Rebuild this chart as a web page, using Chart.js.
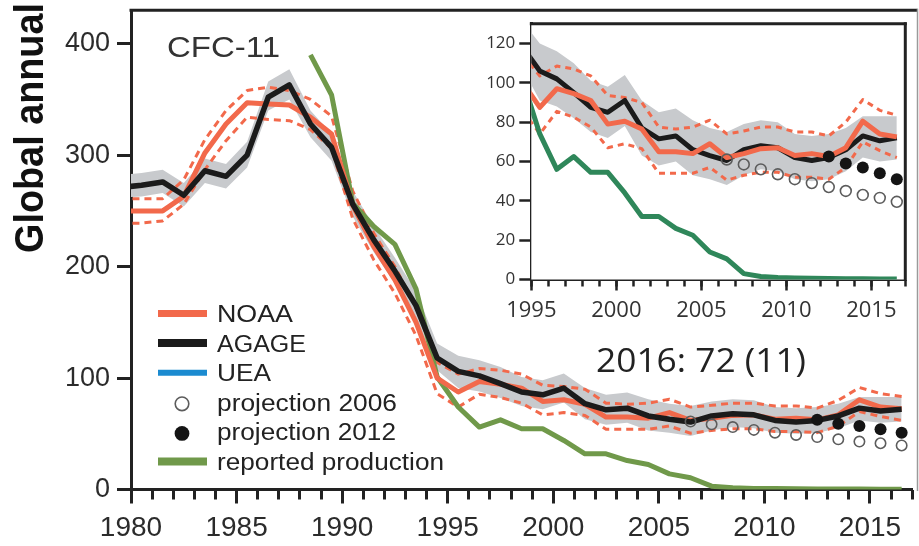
<!DOCTYPE html>
<html>
<head>
<meta charset="utf-8">
<script src="https://cdn.jsdelivr.net/npm/chart.js@4.4.1/dist/chart.umd.min.js"></script>
<style>
  html, body { margin: 0; padding: 0; background: #fff; }
  #wrap { position: relative; width: 919px; height: 546px; overflow: hidden; background: #fff; }
  #main { position: absolute; left: 0; top: 0; width: 919px; height: 546px; }
  #inset { position: absolute; left: 475px; top: 13px; width: 440px; height: 320px; }
  #overlay { position: absolute; left: 0; top: 0; pointer-events: none; }
  .sans { font-family: "Liberation Sans", Arial, Helvetica, sans-serif; }
</style>
</head>
<body>
<div id="wrap">
  <canvas id="main" width="919" height="546"></canvas>
  <canvas id="inset" width="440" height="320"></canvas>
  <svg id="overlay" width="919" height="546" xmlns="http://www.w3.org/2000/svg">
    <text class="sans" transform="translate(43,253) rotate(-90)" font-size="40" font-weight="bold"
          fill="#111" textLength="250" lengthAdjust="spacingAndGlyphs">Global annual</text>
    <text class="sans" x="167" y="57" font-size="30" fill="#333"
          textLength="113" lengthAdjust="spacingAndGlyphs">CFC-11</text>
    <text id="lastValue" x="596" y="372" font-family="Open Sans, sans-serif" font-size="32" fill="#222"
          textLength="210" lengthAdjust="spacingAndGlyphs"></text>
    <g id="legend" class="sans" font-size="23" fill="#222"></g>
  </svg>
</div>
<script>
// CFC-11 global annual emissions (Gg/yr), values plotted at the middle of each year
const years = [1979, 1980, 1981, 1982, 1983, 1984, 1985, 1986, 1987, 1988,
               1989, 1990, 1991, 1992, 1993, 1994, 1995, 1996, 1997, 1998,
               1999, 2000, 2001, 2002, 2003, 2004, 2005, 2006, 2007, 2008,
               2009, 2010, 2011, 2012, 2013, 2014, 2015, 2016];

// AGAGE estimate and its uncertainty range
const agage     = [271, 273, 276, 264, 286, 281, 300, 352, 363, 328,
                   307, 256, 224, 196, 165, 118, 106, 102, 95, 87.5,
                   85, 91, 77, 71.5, 73, 66, 63, 60.5, 66, 68,
                   67, 62, 60.5, 62, 66, 73, 70.5, 72];
const agageLow  = [262, 263, 266, 254, 275, 270, 289, 340, 350, 316,
                   295, 245, 213, 185, 153, 107, 91, 88, 82, 75,
                   72, 78, 63, 58, 60, 53, 51, 48, 53, 56,
                   55, 51, 50, 51, 55, 62, 60, 61];
const agageHigh = [282, 284, 287, 275, 297, 292, 312, 366, 377, 340,
                   319, 268, 236, 208, 178, 131, 120, 116, 110, 101,
                   98, 104, 91, 85, 87, 81, 77, 75, 79, 81,
                   80, 74, 73, 74, 77, 83, 83, 83];

// NOAA estimate and its uncertainty range
const noaa      = [250, 250, 250, 263, 302, 328, 347, 346, 345, 334,
                   319, 255, 218, 188, 150, 100, 87.5, 97, 94.5, 91,
                   79, 80.5, 76.5, 65, 65, 64, 69, 62, 64, 66.5,
                   67, 63, 64, 62.5, 67, 80.5, 74, 72.5];
const noaaHigh  = [261, 261, 261, 278, 314, 340, 358, 361, 358, 350,
                   335, 268, 230, 200, 163, 114, 103.5, 108.5, 107, 103.5,
                   93.5, 92.5, 90, 77.5, 76.5, 77.5, 81, 74, 75.5, 77.5,
                   77.5, 75, 75, 73, 80, 91.5, 86, 83.5];
const noaaLow   = [239, 239, 241, 256, 287, 313, 334, 332, 331, 323,
                   306, 243, 206, 176, 138, 86, 74, 85.5, 82.5, 77.5,
                   67, 69, 66.5, 54, 54, 54, 57, 50.5, 53, 54.5,
                   54.5, 52, 52, 51, 57, 70, 65.5, 62];

// Reported production
const productionYears = [1988, 1989, 1990, 1991, 1992, 1993, 1994, 1995, 1996, 1997,
                         1998, 1999, 2000, 2001, 2002, 2003, 2004, 2005, 2006, 2007,
                         2008, 2009, 2010, 2011, 2012, 2013, 2014, 2015, 2016];
const production      = [390, 354, 257, 236, 220, 180, 101, 74, 56, 62.5,
                         54.5, 54.5, 44, 32, 32, 26, 22.5, 14, 10.5, 3,
                         1.5, 1, 0.8, 0.6, 0.5, 0.4, 0.4, 0.3, 0.3];

// Projections
const proj2006Years = [2006, 2007, 2008, 2009, 2010, 2011, 2012, 2013, 2014, 2015, 2016];
const proj2006      = [61, 58.5, 56, 53.5, 51, 49, 47, 45, 43, 41.5, 39.5];
const proj2012Years = [2012, 2013, 2014, 2015, 2016];
const proj2012      = [62.5, 59, 57, 54, 51];

// Axis ticks
const mainYTicks = [0, 100, 200, 300, 400];
const insetYTicks = [0, 20, 40, 60, 80, 100, 120];

const COLORS = {
  noaa: '#f2694b',
  agage: '#1b1b1b',
  band: '#c8cacd',
  uea: '#1b8bd0',
  prodMain: '#70994a',
  prodInset: '#2f875a',
  open: '#5c5c5c',
  filled: '#141414',
  axis: '#222'
};

const pts = (yrs, vals) => vals.map((v, i) => ({ x: yrs[i] + 0.5, y: v }));

// Legend drawn as an SVG group
(function buildLegend() {
  const items = [
    { label: 'NOAA', kind: 'line', color: COLORS.noaa, w: 7, len: 76 },
    { label: 'AGAGE', kind: 'line', color: COLORS.agage, w: 8, len: 89 },
    { label: 'UEA', kind: 'line', color: COLORS.uea, w: 6, len: 54 },
    { label: 'projection 2006', kind: 'open', len: 180 },
    { label: 'projection 2012', kind: 'dot', len: 179 },
    { label: 'reported production', kind: 'line', color: COLORS.prodMain, w: 8, len: 227 }
  ];
  const g = document.getElementById('legend');
  const NS = 'http://www.w3.org/2000/svg';
  items.forEach((it, i) => {
    const base = 322 + i * 29.6;
    const cy = base - 8.5;
    if (it.kind === 'line') {
      const l = document.createElementNS(NS, 'line');
      l.setAttribute('x1', 158); l.setAttribute('x2', 207);
      l.setAttribute('y1', cy); l.setAttribute('y2', cy);
      l.setAttribute('stroke', it.color); l.setAttribute('stroke-width', it.w);
      g.appendChild(l);
    } else {
      const c = document.createElementNS(NS, 'circle');
      c.setAttribute('cx', 182); c.setAttribute('cy', cy + 1.5); c.setAttribute('r', it.kind === 'open' ? 6.8 : 7.4);
      if (it.kind === 'open') {
        c.setAttribute('fill', '#fff'); c.setAttribute('stroke', COLORS.open); c.setAttribute('stroke-width', 1.6);
      } else {
        c.setAttribute('fill', COLORS.filled);
      }
      g.appendChild(c);
    }
    const t = document.createElementNS(NS, 'text');
    t.setAttribute('x', 217); t.setAttribute('y', base);
    t.setAttribute('textLength', it.len); t.setAttribute('lengthAdjust', 'spacingAndGlyphs');
    t.textContent = it.label;
    g.appendChild(t);
  });
})();

// Latest AGAGE value with its uncertainty
const last = agage.length - 1;
document.getElementById('lastValue').textContent =
  years[last] + ': ' + agage[last] + ' (' + (agageHigh[last] - agage[last]) + ')';

function datasets(s) {
  const line = (label, data, color, width, extra) => Object.assign({
    label, data, borderColor: color, borderWidth: width, pointRadius: 0,
    fill: false, tension: 0, borderJoinStyle: 'round', borderCapStyle: 'butt',
    xAxisID: 'x', yAxisID: 'y'
  }, extra || {});
  const agageLine = line('AGAGE', pts(years, agage), COLORS.agage, s.agageW);
  const noaaLine = line('NOAA', pts(years, noaa), COLORS.noaa, s.noaaW);
  const top = s.noaaOnTop ? [noaaLine, agageLine] : [agageLine, noaaLine];
  return [
    { label: 'projection 2012', data: pts(proj2012Years, proj2012), showLine: false,
      pointRadius: s.dotR, pointBackgroundColor: COLORS.filled, pointBorderColor: COLORS.filled,
      pointBorderWidth: 0, xAxisID: 'x', yAxisID: 'y' },
    { label: 'projection 2006', data: pts(proj2006Years, proj2006), showLine: false,
      pointRadius: s.openR, pointBackgroundColor: 'rgba(255,255,255,0)', pointBorderColor: COLORS.open,
      pointBorderWidth: 1.6, xAxisID: 'x', yAxisID: 'y' },
    ...top,
    line('reported production', pts(productionYears, production), s.prodColor, s.prodW),
    line('NOAA high', pts(years, noaaHigh), COLORS.noaa, s.dashW, { borderDash: s.dash }),
    line('NOAA low', pts(years, noaaLow), COLORS.noaa, s.dashW, { borderDash: s.dash }),
    line('AGAGE high', pts(years, agageHigh), 'rgba(0,0,0,0)', 0,
         { fill: '+1', backgroundColor: COLORS.band }),
    line('AGAGE low', pts(years, agageLow), 'rgba(0,0,0,0)', 0)
  ];
}

// Frame lines that the axes do not draw
const framePlugin = {
  id: 'frame',
  beforeDatasetsDraw(chart, args, o) {
    if (!o.fillArea) return;
    const { ctx, chartArea: a } = chart;
    ctx.save();
    ctx.fillStyle = '#fff';
    ctx.fillRect(a.left, a.top, a.right - a.left, a.bottom - a.top);
    ctx.restore();
  },
  afterDraw(chart, args, o) {
    const { ctx, chartArea: a } = chart;
    ctx.save();
    ctx.strokeStyle = o.color;
    ctx.lineWidth = o.width;
    ctx.beginPath();
    ctx.moveTo(a.left - o.width / 2, a.top);
    ctx.lineTo(o.rightX != null ? o.rightX : a.right + o.width / 2, a.top);
    ctx.stroke();
    if (o.right) {
      ctx.strokeStyle = o.rightColor || o.color;
      ctx.lineWidth = o.rightWidth || o.width;
      const rx = o.rightX != null ? o.rightX : a.right;
      ctx.beginPath();
      ctx.moveTo(rx, a.top - o.width / 2);
      ctx.lineTo(rx, a.bottom + o.width / 2);
      ctx.stroke();
    }
    ctx.restore();
  }
};

function axes(cfg) {
  const tickFmt = v => String(v);
  return {
    x: {
      type: 'linear', position: 'bottom', weight: 1, min: cfg.xmin, max: cfg.xmax,
      ticks: { stepSize: 5, includeBounds: false, autoSkip: false, maxRotation: 0, minRotation: 0,
               maxTicksLimit: 100, padding: cfg.xPad, color: cfg.labelColor,
               font: { family: cfg.font, size: cfg.xFont }, callback: tickFmt },
      grid: { drawOnChartArea: false, drawTicks: true, tickLength: cfg.majorLen,
              tickWidth: cfg.tickW, tickColor: COLORS.axis },
      border: { display: true, width: cfg.axisW, color: COLORS.axis },
      afterFit(s) { s.height = cfg.xHeight; s.paddingLeft = 0; s.paddingRight = 0; }
    },
    xm: {
      type: 'linear', position: 'bottom', weight: 0, min: cfg.xmin, max: cfg.xmax,
      ticks: { stepSize: 1, includeBounds: false, autoSkip: false, display: false, maxTicksLimit: 100 },
      grid: { drawOnChartArea: false, drawTicks: true, tickLength: cfg.minorLen,
              tickWidth: cfg.tickW, tickColor: COLORS.axis },
      border: { display: false },
      afterFit(s) { s.height = 0; s.paddingLeft = 0; s.paddingRight = 0; }
    },
    y: {
      type: 'linear', position: 'left', min: 0, max: cfg.ymax,
      afterBuildTicks(s) { s.ticks = cfg.yTicks.map(v => ({ value: v })); },
      ticks: { padding: cfg.yPad, color: cfg.labelColor,
               font: { family: cfg.font, size: cfg.yFont }, callback: tickFmt },
      grid: { drawOnChartArea: false, drawTicks: true, tickLength: cfg.yTickLen,
              tickWidth: cfg.tickW, tickColor: COLORS.axis },
      border: { display: true, width: cfg.axisW, color: COLORS.axis },
      afterFit(s) { s.width = cfg.yWidth; s.paddingTop = 0; s.paddingBottom = 0; }
    }
  };
}

const common = {
  responsive: false,
  animation: false,
  events: [],
  plugins: { legend: { display: false }, tooltip: { enabled: false } }
};

// Main panel, 1980-2017
new Chart(document.getElementById('main'), {
  type: 'line',
  data: {
    datasets: datasets({ agageW: 5.5, noaaW: 5, dashW: 3, dash: [7, 5], prodW: 5,
                         prodColor: COLORS.prodMain, dotR: 6, openR: 5.2, noaaOnTop: false })
  },
  options: Object.assign({}, common, {
    layout: { padding: { top: 10.3, right: 0, bottom: 0, left: 0 } },
    scales: axes({ xmin: 1980, xmax: 2017, ymax: 430, yTicks: mainYTicks,
                   font: '"Liberation Sans", Arial, sans-serif', xFont: 28, yFont: 27,
                   labelColor: '#2b2b2b', xPad: 8, yPad: 7, majorLen: 14, minorLen: 10,
                   yTickLen: 14, tickW: 3, axisW: 3, xHeight: 56.5, yWidth: 131 }),
    plugins: Object.assign({}, common.plugins, {
      frame: { color: COLORS.axis, width: 3, right: true, rightX: 917.5, rightColor: '#9a9a9a', rightWidth: 1.5 }
    })
  }),
  plugins: [framePlugin]
});

// Inset panel, 1995-2017
new Chart(document.getElementById('inset'), {
  type: 'line',
  data: {
    datasets: datasets({ agageW: 5, noaaW: 5, dashW: 3, dash: [6, 5], prodW: 5,
                         prodColor: COLORS.prodInset, dotR: 6, openR: 5.4, noaaOnTop: true })
  },
  options: Object.assign({}, common, {
    layout: { padding: { top: 10.8, right: 9.7, bottom: 0, left: 0 } },
    scales: axes({ xmin: 1995, xmax: 2017, ymax: 130, yTicks: insetYTicks,
                   font: '"Open Sans", sans-serif', xFont: 22, yFont: 17,
                   labelColor: '#333', xPad: 7, yPad: 4, majorLen: 11, minorLen: 7,
                   yTickLen: 12, tickW: 2.5, axisW: 3, xHeight: 53.5, yWidth: 56.3 }),
    plugins: Object.assign({}, common.plugins, {
      frame: { color: COLORS.axis, width: 3, right: true, fillArea: true }
    })
  }),
  plugins: [framePlugin]
});
</script>
</body>
</html>
